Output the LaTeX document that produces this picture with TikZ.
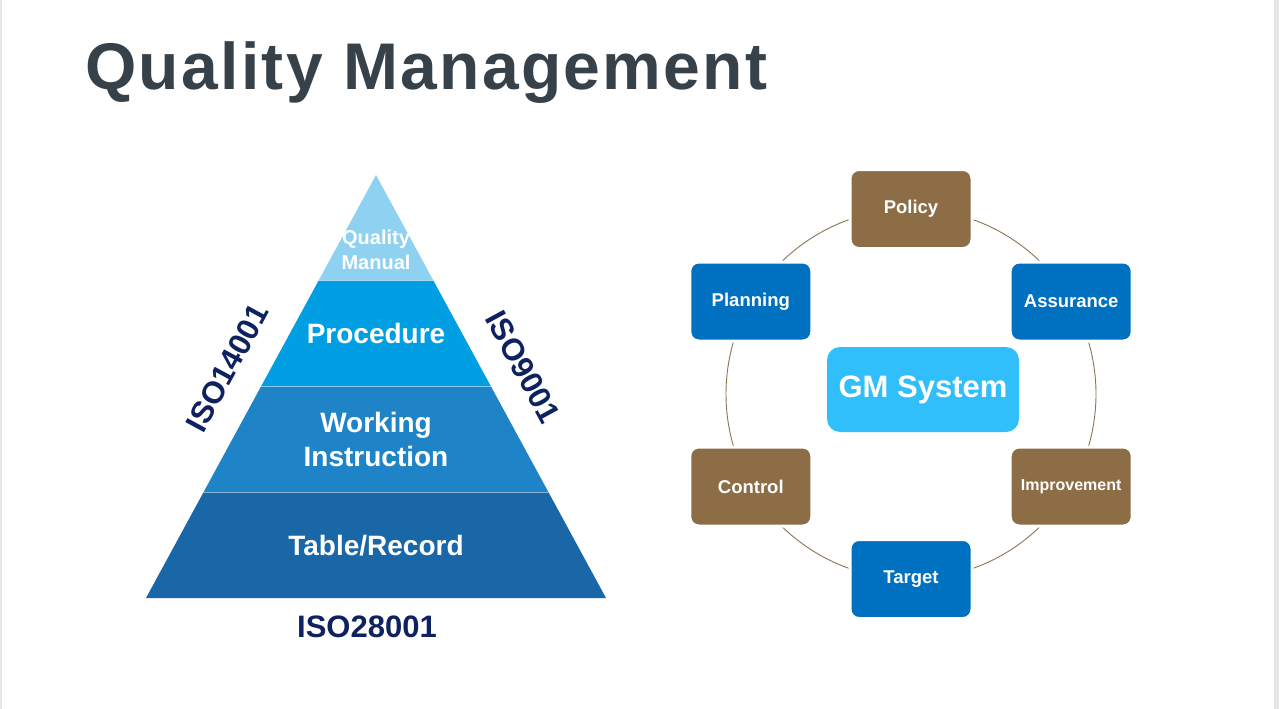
\documentclass[tikz,border=0pt]{standalone}
\usepackage{fontspec}
\setmainfont{Liberation Sans}
\usepackage{xcolor}
\usepackage{tikz}
\usetikzlibrary{
    calc,
    positioning
}
\definecolor{ink}     {HTML}{37414A}
\definecolor{navy}    {HTML}{0E2160}
\definecolor{pyr1}    {HTML}{8ED1F1}
\definecolor{pyr2}    {HTML}{009FE3}
\definecolor{pyr3}    {HTML}{1F84C7}
\definecolor{pyr4}    {HTML}{1967A7}
\definecolor{brown}   {HTML}{8C6D46}
\definecolor{boxblue} {HTML}{0070C0}
\definecolor{sky}     {HTML}{31BFFB}
\definecolor{ring}    {HTML}{8B7355}
\definecolor{pageedge}{HTML}{E6E6E6}

\begin{document}
\begin{tikzpicture}[
    x=1pt, y=-1pt,
    line cap=round, line join=round,
    %% --- semantic styles ---
    titletext/.style  = {anchor=base west, inner sep=0pt, text=ink,
                         font=\fontsize{66}{66}\selectfont\bfseries\addfontfeature{LetterSpace=3.5}},
    bandtext/.style   = {text=white, inner sep=0pt, align=center,
                         font=\fontsize{28}{34}\selectfont\bfseries},
    isolabel/.style   = {text=navy, inner sep=0pt,
                         font=\fontsize{31}{31}\selectfont\bfseries},
    sepline/.style    = {draw=white, opacity=0.35, line width=0.8pt},
    ringbox/.style    = {rectangle, rounded corners=9pt, draw=white,
                         line width=3pt, minimum width=122pt,
                         minimum height=79pt, inner sep=0pt, text=white,
                         font=\fontsize{18.5}{22}\selectfont\bfseries},
    hubbox/.style     = {rectangle, rounded corners=13pt, fill=sky,
                         minimum width=192pt, minimum height=85pt,
                         text=white, font=\fontsize{31}{36}\selectfont\bfseries},
    ringline/.style   = {draw=ring, line width=0.9pt}
]
\useasboundingbox (0,0) rectangle (1279,709);
\fill[pageedge] (0,0) rectangle (2,709);
\fill[pageedge] (1274,0) rectangle (1279,709);

%% =====================================================
%% TITLE
%% =====================================================
\node[titletext] (TITLE) at (85,89) {Quality Management};

%% =====================================================
%% PYRAMID — four bands cut at quarters of the edges
%% =====================================================
\coordinate (APEX) at (376,175);
\coordinate (BL)   at (146,598);
\coordinate (BR)   at (606,598);

\foreach \a/\b/\C in {0/.25/pyr1, .25/.5/pyr2, .5/.75/pyr3, .75/1/pyr4}
    \fill[\C] ($(APEX)!\a!(BL)$) -- ($(APEX)!\a!(BR)$)
           -- ($(APEX)!\b!(BR)$) -- ($(APEX)!\b!(BL)$) -- cycle;

% Faint seams between bands
\foreach \t in {.25, .5, .75}
    \draw[sepline] ($(APEX)!\t!(BL)$) -- ($(APEX)!\t!(BR)$);

\node[bandtext, font=\fontsize{20}{25}\selectfont\bfseries] (QM) at (376,250)
    {Quality\\Manual};
\node[bandtext] (PROC) at (376,333) {Procedure};
\node[bandtext] (WI)   at (376,439) {Working\\Instruction};
\node[bandtext] (TR)   at (376,546) {Table/Record};

% Standards along the three sides
\node[isolabel, rotate=61.5]  (ISOL) at (227,368) {ISO14001};
\node[isolabel, rotate=-61.5] (ISOR) at (523,367) {ISO9001};
\node[isolabel]               (ISOB) at (367,627) {ISO28001};

%% =====================================================
%% GM SYSTEM — six boxes on a ring round the hub
%% =====================================================
\coordinate (CEN) at (911,394);
\draw[ringline] (CEN) circle (185pt);

\node[hubbox] (GMS) at (923,389.5) {GM System};

\begin{scope}[shift={(CEN)}]
\foreach \N/\A/\C/\T in {POL/90/brown/Policy, ASR/30/boxblue/Assurance,
                         TGT/270/boxblue/Target, CTL/210/brown/Control,
                         PLN/150/boxblue/Planning}
    \node[ringbox, fill=\C] (\N) at (\A:185pt) {\T};
\node[ringbox, fill=brown, font=\fontsize{16}{20}\selectfont\bfseries]
    (IMP) at (330:185pt) {Improvement};
\end{scope}

\end{tikzpicture}
\end{document}
